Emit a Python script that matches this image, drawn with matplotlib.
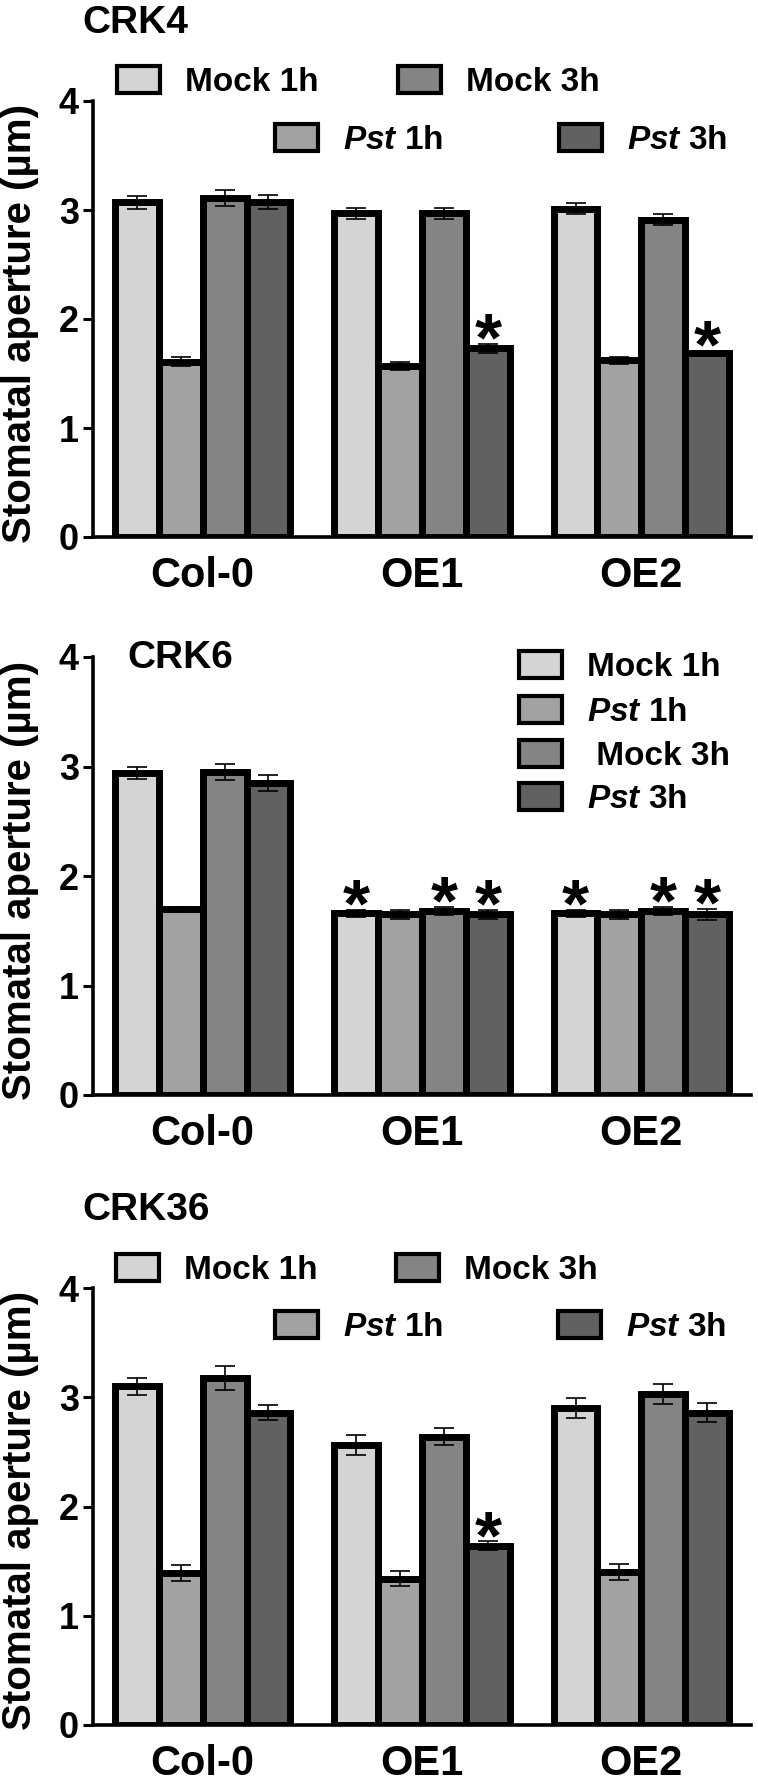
import numpy as np
from matplotlib import pyplot as plt
from matplotlib.patches import Patch

plt.rcParams['font.family'] = ['Liberation Sans', 'DejaVu Sans']
plt.rcParams['font.weight'] = 'bold'
plt.rcParams['axes.labelweight'] = 'bold'
plt.rcParams['mathtext.fontset'] = 'custom'
plt.rcParams['mathtext.it'] = 'Liberation Sans:italic:bold'
plt.rcParams['mathtext.rm'] = 'Liberation Sans:bold'
plt.rcParams['mathtext.bf'] = 'Liberation Sans:bold'

# data
genotypes = ['Col-0', 'OE1', 'OE2']
treatments = ['Mock 1h', r'$Pst$ 1h', 'Mock 3h', r'$Pst$ 3h']
colors = ['#d4d4d4', '#a2a2a2', '#848484', '#616161']

crk4_mean = [[3.07, 2.97, 3.01],   # Mock 1h
             [1.61, 1.57, 1.62],   # Pst 1h
             [3.11, 2.97, 2.91],   # Mock 3h
             [3.07, 1.73, 1.69]]   # Pst 3h
crk4_err = [[0.06, 0.05, 0.05],
            [0.04, 0.04, 0.03],
            [0.07, 0.05, 0.05],
            [0.065, 0.04, 0.02]]
crk4_stars = [(1, 3), (2, 3)]  # (genotype, treatment)

crk6_mean = [[2.94, 1.66, 1.66],
             [1.70, 1.65, 1.65],
             [2.95, 1.68, 1.68],
             [2.85, 1.65, 1.65]]
crk6_err = [[0.055, 0.03, 0.03],
            [0.02, 0.04, 0.04],
            [0.07, 0.04, 0.04],
            [0.07, 0.04, 0.05]]
crk6_stars = [(1, 0), (1, 2), (1, 3), (2, 0), (2, 2), (2, 3)]

crk36_mean = [[3.10, 2.56, 2.90],
              [1.39, 1.34, 1.40],
              [3.18, 2.64, 3.03],
              [2.86, 1.64, 2.86]]
crk36_err = [[0.08, 0.09, 0.09],
             [0.07, 0.07, 0.07],
             [0.11, 0.08, 0.09],
             [0.07, 0.04, 0.09]]
crk36_stars = [(1, 3)]

W, H = 758, 1784
fig = plt.figure(figsize=(W / 100, H / 100), dpi=100)


def px(x, y):
    # pixel position (from top left) -> figure fraction
    return x / W, 1 - y / H


def bar_panel(rect, mean, err, stars):
    ax = fig.add_axes(rect)
    x = np.arange(len(genotypes))
    bw = 0.2
    for i in range(len(treatments)):
        pos = x + (i - 1.5) * bw
        ax.bar(pos, mean[i], bw, color=colors[i], edgecolor='black', linewidth=5, zorder=2)
        ax.errorbar(pos, mean[i], yerr=err[i], fmt='none', ecolor='black',
                    elinewidth=1.2, capsize=7, capthick=1.2, zorder=3)
    for g, s in stars:
        ax.annotate('*', (x[g] + (s - 1.5) * bw, mean[s][g] + err[s][g]),
                    xytext=(0, 1), textcoords='offset points',
                    ha='center', va='center', fontsize=50)
    ax.set_xlim(-0.5, 2.5)
    ax.set_ylim(0, 4)
    ax.set_yticks([0, 1, 2, 3, 4])
    ax.set_xticks(x)
    ax.set_xticklabels(genotypes)
    for s in ['top', 'right']:
        ax.spines[s].set_visible(False)
    for s in ['left', 'bottom']:
        ax.spines[s].set_linewidth(2.6)
    ax.tick_params(axis='y', direction='out', length=7, width=2.2, labelsize=26, pad=3)
    ax.tick_params(axis='x', length=0, labelsize=30, pad=14)
    ax.set_ylabel('Stomatal aperture (µm)', fontsize=29)
    ax.yaxis.set_label_coords(-0.082, 0.49)
    return ax


def add_key(i, x, y, label=None):
    h = Patch(facecolor=colors[i], edgecolor='black', linewidth=3, joinstyle='round')
    fig.legend([h], [label or treatments[i]], loc='center left', bbox_to_anchor=px(x, y),
               frameon=False, fontsize=24, handlelength=1.29, handleheight=0.84,
               handletextpad=0.75, borderpad=0, borderaxespad=0)


left, width = 93 / W, 658 / W

# CRK4
bar_panel([left, 1 - 537 / H, width, 436 / H], crk4_mean, crk4_err, crk4_stars)
fig.text(*px(82, 23), 'CRK4', fontsize=28, va='center')
add_key(0, 117, 82)
add_key(2, 398, 82)
add_key(1, 275, 140)
add_key(3, 559, 140)

# CRK6
bar_panel([left, 1 - 1095 / H, width, 438 / H], crk6_mean, crk6_err, crk6_stars)
fig.text(*px(127, 658), 'CRK6', fontsize=28, va='center')
add_key(0, 519, 667)
add_key(1, 519, 712)
add_key(2, 519, 756, ' Mock 3h')
add_key(3, 519, 799)

# CRK36
bar_panel([left, 1 - 1725 / H, width, 437 / H], crk36_mean, crk36_err, crk36_stars)
fig.text(*px(82, 1210), 'CRK36', fontsize=28, va='center')
add_key(0, 116, 1270)
add_key(2, 396, 1270)
add_key(1, 275, 1327)
add_key(3, 558, 1327)

fig.savefig('out.png', dpi=100)
